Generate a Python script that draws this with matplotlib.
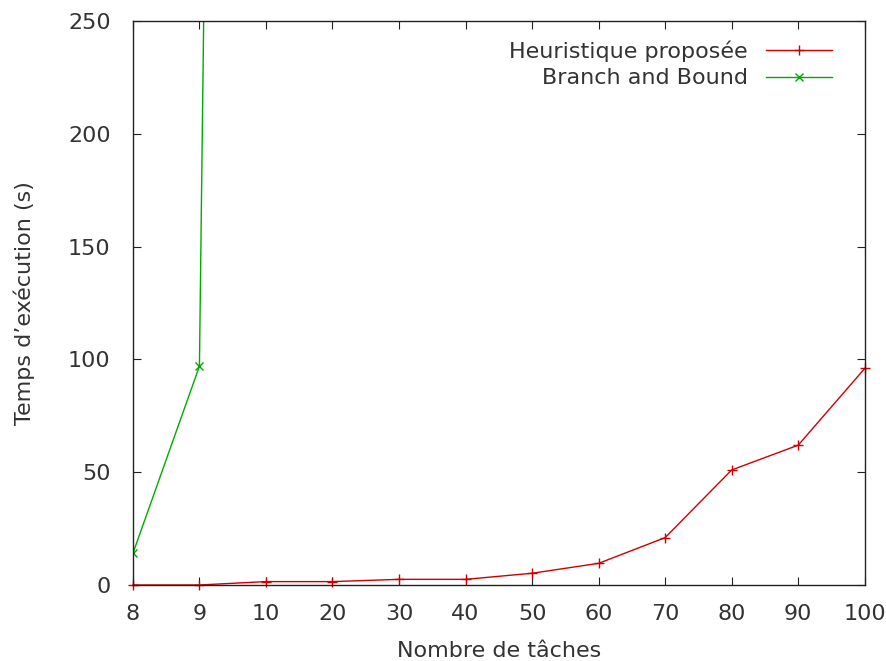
import matplotlib
matplotlib.use("Agg")
import matplotlib.pyplot as plt

categories = ["8", "9", "10", "20", "30", "40", "50", "60", "70", "80", "90", "100"]
heuristique = [0, 0, 1.5, 1.5, 2.5, 2.5, 5.2, 9.6, 21, 51, 62, 96]
bnb_labels = ["8", "9", "10"]
bnb = [14, 97, 2500]

plt.rcParams['font.family'] = ['DejaVu Sans']
fig = plt.figure(figsize=(8.86, 6.61), dpi=100)
ax = fig.add_axes([0.150, 0.115, 0.826, 0.853])

fs = 16
tc = '#333333'
xpos = list(range(len(categories)))
ax.plot(xpos, heuristique, color='#cc0000', marker='+', markersize=7, lw=1,
        label='Heuristique proposée', clip_on=False)
ax.plot(xpos[:len(bnb)], bnb, color='#00aa00', marker='x', markersize=6, lw=1,
        label='Branch and Bound')

ax.set_xlim(0, len(categories) - 1)
ax.set_ylim(0, 250)
ax.set_xticks(xpos)
ax.set_xticklabels(categories)
ax.set_yticks([0, 50, 100, 150, 200, 250])
ax.tick_params(direction='in', top=True, right=True, length=6, labelsize=fs,
               colors='#222222', labelcolor=tc)
ax.tick_params(axis='y', pad=16)
ax.tick_params(axis='x', pad=14)
for s in ax.spines.values():
    s.set_linewidth(1)
    s.set_color('#222222')
ax.set_xlabel('Nombre de tâches', fontsize=fs, labelpad=12, color=tc)
ax.set_ylabel("Temps d’exécution (s)", fontsize=fs, labelpad=24, color=tc)
leg = ax.legend(loc='upper right', frameon=False, markerfirst=False, fontsize=fs,
                handlelength=3.0, handletextpad=0.8, borderaxespad=0.0,
                borderpad=0.3, labelspacing=0.3, bbox_to_anchor=(0.965, 0.978))
for t in leg.get_texts():
    t.set_color(tc)

fig.savefig('out.png', dpi=100)
